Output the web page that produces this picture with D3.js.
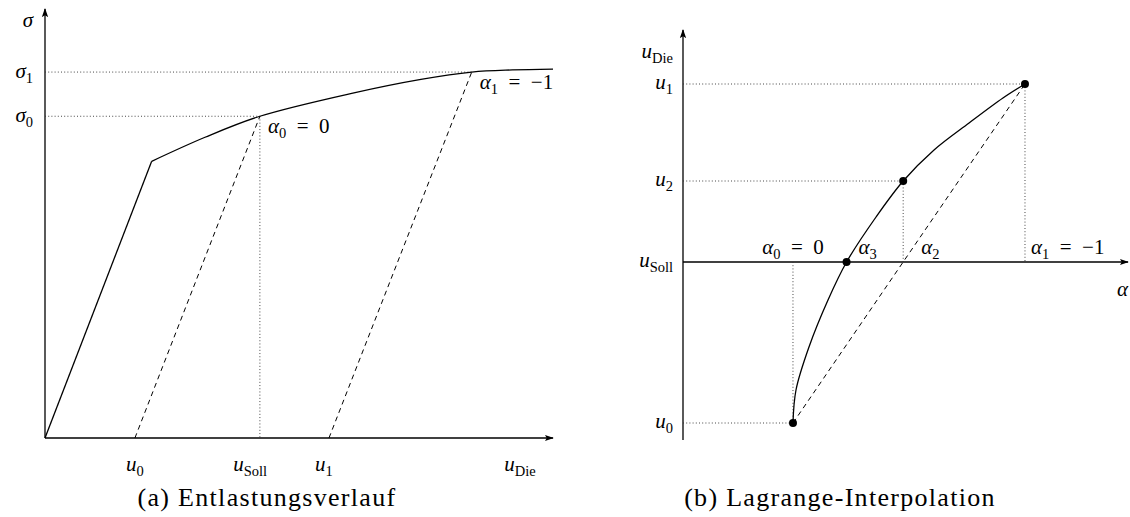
<!DOCTYPE html>
<html>
<head>
<meta charset="utf-8">
<script src="https://cdn.jsdelivr.net/npm/d3@7"></script>
<style>
  html, body { margin: 0; padding: 0; background: #fff; }
</style>
</head>
<body>
<svg id="fig" width="1130" height="517"></svg>
<script>
// ---------- (a) Entlastungsverlauf: stress over die displacement ----------
// elastic branch (straight) and plastic branch (hardening curve)
const elasticU = [0, 21];
const elasticSigma = [0, 64.5];
const plasticU = [21, 31.5, 42.3, 60.6, 74, 84, 92, 100];
const plasticSigma = [64.5, 70.1, 75, 80.4, 83.6, 85.3, 85.8, 86];
// unloading lines: foot on the u axis -> point on the curve
const unloadFootU = [17.7, 55.9];
const unloadTopU = [42.3, 84];
const unloadTopSigma = [75, 85.3];
const unloadNames = ["α", "α"];
const unloadSubs = ["0", "1"];
const unloadValues = ["0", "−1"];
// axis labels
const sigmaTickValues = [85.3, 75];
const sigmaTickSubs = ["1", "0"];
const uTickValues = [17.7, 40.4, 54.9, 93.5];
const uTickSubs = ["0", "Soll", "1", "Die"];

// ---------- (b) Lagrange-Interpolation: u_Die over alpha ----------
const alphaPts = [0, -0.475, -1];          // alpha_0, alpha_2, alpha_1
const uPts = [-16.1, 8.1, 17.8];           // u_0, u_2, u_1
const alphaRootCurve = -0.231;             // alpha_3 where the curve meets u_Soll
const uSoll = 0;
const interpAlpha = [-1, -0.905, -0.759, -0.608, -0.475, -0.358, -0.231, -0.151, -0.069, -0.013, 0];
const interpU = [17.8, 16.4, 13.9, 11.2, 8.1, 4.5, 0, -3.8, -8.5, -12.8, -16.1];
const uTickSubsB = ["1", "2", "Soll", "0"];
const uTickValuesB = [17.8, 8.1, 0, -16.1];

const svg = d3.select("#fig");
const FONT = '"Liberation Serif", "Times New Roman", serif';
const FS = 21, SUB = 14.5;

// arrowhead marker
const defs = svg.append("defs");
defs.append("marker")
  .attr("id", "arrow")
  .attr("viewBox", "0 0 10 10")
  .attr("refX", 9).attr("refY", 5)
  .attr("markerWidth", 9).attr("markerHeight", 9)
  .attr("markerUnits", "userSpaceOnUse")
  .attr("orient", "auto")
  .append("path").attr("d", "M0,1.5 L10,5 L0,8.5 L2,5 Z").attr("fill", "#000");

// math label: italic base, upright subscript, optional trailing text
function mathLabel(g, x, y, base, sub, rest, anchor) {
  const t = g.append("text").attr("x", x).attr("y", y)
    .attr("text-anchor", anchor || "start")
    .style("font-family", FONT)
    .style("font-size", FS + "px")
    .attr("fill", "#000");
  t.append("tspan").style("font-style", "italic").text(base);
  if (sub) {
    t.append("tspan").attr("dy", 4.5).style("font-size", SUB + "px").text(sub);
    if (rest) t.append("tspan").attr("dy", -4.5).text(rest);
  } else if (rest) {
    t.append("tspan").text(rest);
  }
  return t;
}

// figure caption below a panel
function caption(g, x, text) {
  g.append("text").attr("x", x).attr("y", 506).attr("text-anchor", "middle")
    .style("font-family", FONT).style("font-size", "26px")
    .style("letter-spacing", "1.3px").text(text);
}

const dotted = sel => sel.attr("stroke", "#333").attr("stroke-width", 0.9)
  .attr("stroke-dasharray", "1,2.2").attr("fill", "none");
const dashed = sel => sel.attr("stroke", "#000").attr("stroke-width", 1)
  .attr("stroke-dasharray", "5,4").attr("fill", "none");
const solid = sel => sel.attr("stroke", "#000").attr("stroke-width", 1.3).attr("fill", "none");

// ================= panel (a) =================
{
  const x = d3.scaleLinear().domain([0, 100]).range([45, 553]);
  const y = d3.scaleLinear().domain([0, 100]).range([438, 9]);
  const g = svg.append("g");

  // axes
  g.append("line").attr("x1", x(0)).attr("y1", y(0)).attr("x2", x(100)).attr("y2", y(0))
    .attr("stroke", "#000").attr("stroke-width", 1.3).attr("marker-end", "url(#arrow)");
  g.append("line").attr("x1", x(0)).attr("y1", y(0)).attr("x2", x(0)).attr("y2", y(100))
    .attr("stroke", "#000").attr("stroke-width", 1.3).attr("marker-end", "url(#arrow)");

  // dotted helper lines to the sigma axis
  sigmaTickValues.forEach((s, i) => {
    const uEnd = unloadTopU[unloadTopSigma.indexOf(s)];
    g.append("line").attr("x1", x(0)).attr("y1", y(s)).attr("x2", x(uEnd)).attr("y2", y(s)).call(dotted);
    mathLabel(g, x(0) - 12, y(s) + 6, "σ", sigmaTickSubs[i], null, "end");
  });
  // dotted drop from alpha_0 point to u_Soll
  g.append("line").attr("x1", x(unloadTopU[0])).attr("y1", y(unloadTopSigma[0]))
    .attr("x2", x(unloadTopU[0])).attr("y2", y(0)).call(dotted);

  // elastic + plastic branch
  const lineLin = d3.line().x(d => x(d[0])).y(d => y(d[1]));
  const lineCurve = d3.line().x(d => x(d[0])).y(d => y(d[1])).curve(d3.curveCatmullRom.alpha(0.5));
  g.append("path").attr("d", lineLin(elasticU.map((u, i) => [u, elasticSigma[i]]))).call(solid);
  g.append("path").attr("d", lineCurve(plasticU.map((u, i) => [u, plasticSigma[i]]))).call(solid);

  // unloading lines
  unloadFootU.forEach((u, i) => {
    g.append("path").attr("d", lineLin([[u, 0], [unloadTopU[i], unloadTopSigma[i]]])).call(dashed);
    mathLabel(g, x(unloadTopU[i]) + 8, y(unloadTopSigma[i]) + 17,
      unloadNames[i], unloadSubs[i], "\u2002=\u2002" + unloadValues[i], "start");
  });

  // sigma axis title
  mathLabel(g, x(0) - 12, 27, "σ", null, null, "end");
  // u axis labels
  uTickValues.forEach((u, i) => {
    mathLabel(g, x(u), 471, "u", uTickSubs[i], null, "middle");
  });

  caption(g, 267, "(a) Entlastungsverlauf");
}

// ================= panel (b) =================
{
  const x = d3.scaleLinear().domain([0.474, -1.444]).range([683, 1128]);
  const y = d3.scaleLinear().domain([-17.8, 23.2]).range([440, 30]);
  const g = svg.append("g");

  // axes
  g.append("line").attr("x1", x(0.474)).attr("y1", y(-17.8)).attr("x2", x(0.474)).attr("y2", y(23.2))
    .attr("stroke", "#000").attr("stroke-width", 1.3).attr("marker-end", "url(#arrow)");
  g.append("line").attr("x1", x(0.474)).attr("y1", y(uSoll)).attr("x2", x(-1.444)).attr("y2", y(uSoll))
    .attr("stroke", "#000").attr("stroke-width", 1.3).attr("marker-end", "url(#arrow)");

  // dotted projections of the support points
  alphaPts.forEach((a, i) => {
    g.append("line").attr("x1", x(0.474)).attr("y1", y(uPts[i])).attr("x2", x(a)).attr("y2", y(uPts[i])).call(dotted);
    g.append("line").attr("x1", x(a)).attr("y1", y(uPts[i])).attr("x2", x(a)).attr("y2", y(uSoll)).call(dotted);
  });

  // secant through u_0 and u_1
  const lineLin = d3.line().x(d => x(d[0])).y(d => y(d[1]));
  g.append("path").attr("d", lineLin([[alphaPts[0], uPts[0]], [alphaPts[2], uPts[2]]])).call(dashed);

  // interpolation curve
  const curve = d3.line().x(d => x(d[0])).y(d => y(d[1])).curve(d3.curveCatmullRom.alpha(0.5));
  g.append("path").attr("d", curve(interpAlpha.map((a, i) => [a, interpU[i]]))).call(solid);

  // support points and root
  const dots = alphaPts.map((a, i) => [a, uPts[i]]).concat([[alphaRootCurve, uSoll]]);
  g.selectAll("circle").data(dots).join("circle")
    .attr("cx", d => x(d[0])).attr("cy", d => y(d[1])).attr("r", 4).attr("fill", "#000");

  // u axis labels
  uTickValuesB.forEach((u, i) => {
    mathLabel(g, x(0.474) - 10, y(u) + 5, "u", uTickSubsB[i], null, "end");
  });
  mathLabel(g, x(0.474) - 10, 58, "u", "Die", null, "end");
  mathLabel(g, 1117, 296, "α", null, null, "start");

  // alpha labels on the axis
  const ly = y(uSoll) - 8;
  mathLabel(g, x(alphaPts[0]), ly, "α", "0", "\u2002=\u20020", "middle");
  mathLabel(g, x(alphaRootCurve) + 12, ly, "α", "3", null, "start");
  mathLabel(g, x(alphaPts[1]) + 18, ly, "α", "2", null, "start");
  mathLabel(g, x(alphaPts[2]) + 6, ly, "α", "1", "\u2002=\u2002−1", "start");

  caption(g, 840, "(b) Lagrange-Interpolation");
}
</script>
</body>
</html>
